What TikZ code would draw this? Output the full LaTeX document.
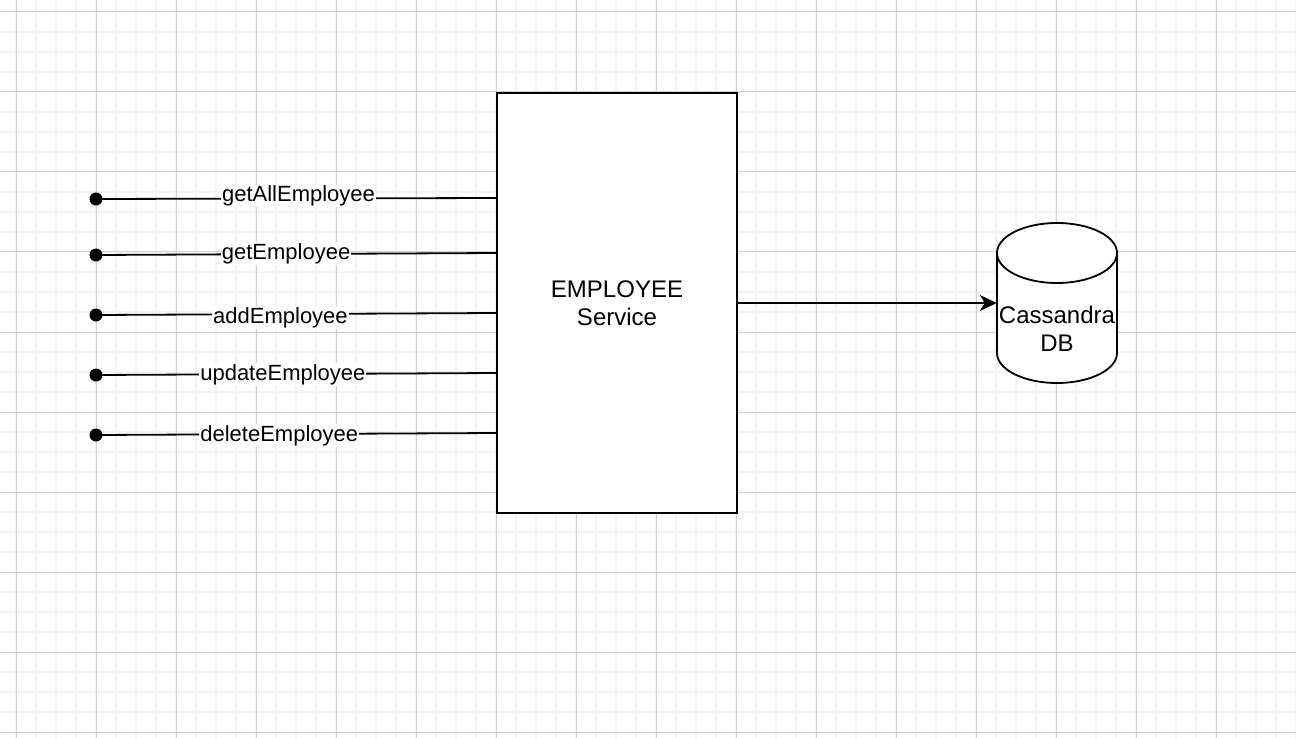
\documentclass[tikz,border=0pt]{standalone}
\usepackage{fontspec}
\setmainfont{Liberation Sans}
\usepackage{xcolor}
\usetikzlibrary{arrows.meta}

\definecolor{gridmajor}{RGB}{208,208,208}
\definecolor{gridminor}{RGB}{243,243,243}

\begin{document}
\begin{tikzpicture}[x=1pt,y=-1pt,
    dot/.style={circle,fill,inner sep=0pt,minimum size=13pt},
    call/.style={fill=white,inner sep=1pt,anchor=base,font=\fontsize{22}{26}\selectfont},
    wire/.style={line width=1.8pt}]

      \useasboundingbox (0,0) rectangle (1296,738);
      \fill[white] (0,0) rectangle (1296,738);

      % grid
      \foreach \i in {16,36,...,1296}
        \draw[color=gridminor, line width=1.6pt] (\i,0) -- (\i,738);
      \foreach \j in {12,32,...,738}
        \draw[color=gridminor, line width=1.6pt] (0,\j) -- (1296,\j);
      \foreach \i in {16,96,...,1296}
        \draw[color=gridmajor, line width=1pt] (\i,0) -- (\i,738);
      \foreach \j in {12,92,...,738}
        \draw[color=gridmajor, line width=1pt] (0,\j) -- (1296,\j);

      % service
      \node[draw, line width=1.8pt, fill=white, minimum width=240pt, minimum height=420pt,
        align=center, font=\fontsize{24}{28}\selectfont] (svc) at (617,303) {EMPLOYEE\\Service};

      % database
      \node[minimum width=120pt, minimum height=160pt, inner sep=0pt] (db) at (1057,303) {};
      \draw[line width=1.8pt, fill=white] (997,253) -- (997,353)
        arc[start angle=180, end angle=360, x radius=60pt, y radius=30pt] -- (1117,253)
        arc[start angle=0, end angle=180, x radius=60pt, y radius=30pt] -- cycle;
      \draw[line width=1.8pt] (997,253)
        arc[start angle=180, end angle=360, x radius=60pt, y radius=30pt];
      \node[align=center, inner sep=0pt, font=\fontsize{24}{28}\selectfont] (dblabel) at (1057,329) {Cassandra\\DB};

      \draw[wire, -{Stealth[length=17pt,width=16pt,inset=5pt]}] (svc.east) -- (db.west);

      % endpoints
      \foreach \n/\yl/\yr/\p/\s/\t in {1/199/198/.505/-3/getAllEmployee,
                                        2/255/253/.474/-5/getEmployee,
                                        3/315/313/.460/-9/addEmployee,
                                        4/375/373/.466/-6/updateEmployee,
                                        5/435/433/.457/-7/deleteEmployee}
      {
        \node[dot] (d\n) at (96,\yl) {};
        \coordinate (e\n) at (497,\yr);
        \draw[wire] (d\n.center) -- (e\n) node[call, pos=\p, yshift=\s pt] {\t};
      }
    \end{tikzpicture}
\end{document}
